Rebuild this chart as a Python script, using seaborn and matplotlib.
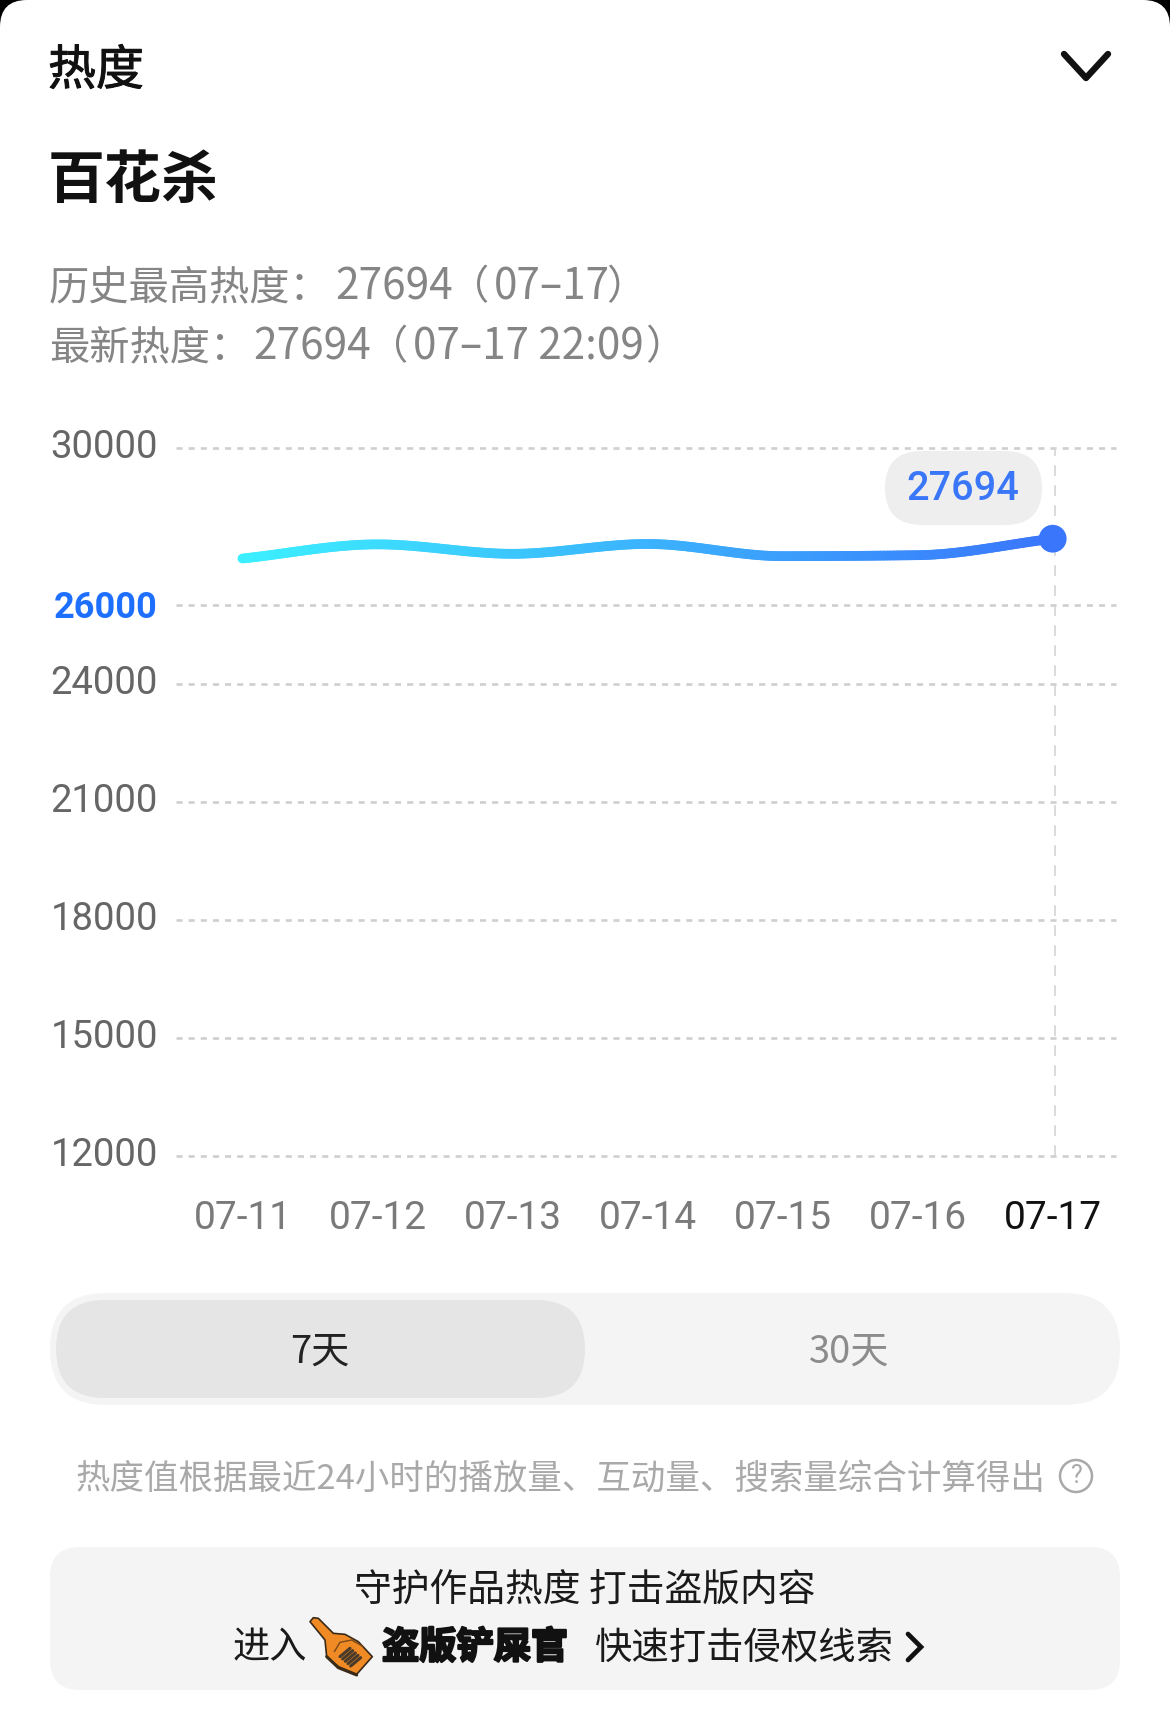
import numpy as np
import pandas as pd
import matplotlib
matplotlib.use("Agg")
import matplotlib.pyplot as plt
import matplotlib.colors as mcolors
import matplotlib.patheffects as pe
from matplotlib.patches import FancyBboxPatch, Rectangle, Polygon, Circle
from matplotlib.transforms import ScaledTranslation
import seaborn as sns

dates = ["07-11", "07-12", "07-13", "07-14", "07-15", "07-16", "07-17"]
heat = [27190, 27550, 27310, 27560, 27250, 27275, 27694]
y_ticks = [12000, 15000, 18000, 21000, 24000, 26000, 30000]
highlight_tick = 26000

CJK = ["Noto Sans CJK SC", "DejaVu Sans"]
NUM = ["Roboto", "DejaVu Sans"]
W, H = 1170, 1736

sns.set_theme(style="white")
plt.rcParams["font.family"] = CJK
plt.rcParams["axes.unicode_minus"] = False


def monotone_curve(values, per_seg=40):
    """Monotone cubic Hermite through the values, for the smooth display line."""
    y = np.asarray(values, dtype=float)
    d = np.diff(y)
    m = np.zeros_like(y)
    m[0], m[-1] = d[0], d[-1]
    for i in range(1, len(y) - 1):
        if d[i - 1] * d[i] > 0:
            m[i] = 2 * d[i - 1] * d[i] / (d[i - 1] + d[i])
    xs, ys = [], []
    for i in range(len(d)):
        t = np.linspace(0, 1, per_seg, endpoint=False)
        h00 = 2 * t**3 - 3 * t**2 + 1
        h10 = t**3 - 2 * t**2 + t
        h01 = -2 * t**3 + 3 * t**2
        h11 = t**3 - t**2
        xs.append(i + t)
        ys.append(h00 * y[i] + h10 * m[i] + h01 * y[i + 1] + h11 * m[i + 1])
    return np.r_[np.concatenate(xs), len(y) - 1.0], np.r_[np.concatenate(ys), y[-1]]


fig = plt.figure(figsize=(W / 100, H / 100), dpi=100, facecolor="white")

# page layer in pixel coordinates
bg = fig.add_axes([0, 0, 1, 1], zorder=0)
bg.set_xlim(0, W)
bg.set_ylim(H, 0)
bg.axis("off")


def rbox(x0, y0, x1, y1, r, color, ax=bg, z=1):
    ax.add_patch(FancyBboxPatch((x0, y0), x1 - x0, y1 - y0,
                                boxstyle=f"round,pad=0,rounding_size={r}",
                                fc=color, ec="none", zorder=z))


bg.add_patch(Rectangle((0, 0), W, 60, fc="black", ec="none", zorder=0))
rbox(0, 0, W, H + 80, 27, "white", z=0.5)

bg.text(48, 71, "热度", fontsize=34.5, fontweight="medium", color="#111111", va="center", ha="left",
        path_effects=[pe.withStroke(linewidth=0.7, foreground="#111111")])
bg.plot([1064, 1086, 1108], [54, 78, 54], color="#111111", lw=4.6, solid_capstyle="round",
        solid_joinstyle="round", zorder=3)
bg.text(48, 181, "百花杀", fontsize=41, fontweight="bold", color="#111111", va="center", ha="left")

GREY = "#858585"
for x, y, s, fs in [
    (49, 287.5, "历史最高热度：", 29), (335, 287.5, f"{heat[-1]}", 30.5), (449, 287.5, "（", 29),
    (494, 287.5, "07–17", 30.3), (606, 287.5, "）", 29),
    (49, 347.5, "最新热度：", 29), (253, 347.5, f"{heat[-1]}", 30.5), (368, 347.5, "（", 29),
    (413, 347.5, "07–17 22:09", 30.3), (645, 347.5, "）", 29),
]:
    bg.text(x, y, s, fontsize=fs, color=GREY, va="center", ha="left")

# value pill
rbox(885, 451, 1042, 525, 37, "#eeeeee")
bg.text(963, 489, f"{heat[-1]}", fontsize=28.5, family=NUM, fontweight="medium",
        color="#3a76f8", va="center", ha="center", zorder=3)

# range switch
rbox(50, 1293, 1120, 1405, 56, "#f4f4f4")
rbox(56, 1300, 585, 1398, 49, "#e5e5e5", z=2)
bg.text(320, 1352, "7天", fontsize=27.5, color="#222222", va="center", ha="center", zorder=3)
bg.text(849, 1352, "30天", fontsize=27.5, color="#8c8c8c", va="center", ha="center", zorder=3)

# footnote
bg.text(76, 1479, "热度值根据最近24小时的播放量、互动量、搜索量综合计算得出", fontsize=24.8,
        color="#a9a9a9", va="center", ha="left")
bg.add_patch(Circle((1076, 1476), 16, fc="none", ec="#a9a9a9", lw=1.8, zorder=3))
bg.text(1076, 1476, "?", fontsize=18, color="#a9a9a9", va="center", ha="center", zorder=3, family=NUM)

# bottom card
rbox(50, 1547, 1120, 1690, 30, "#f4f4f4")
bg.text(585, 1590, "守护作品热度 打击盗版内容", fontsize=27.2, color="#1a1a1a", va="center", ha="center", zorder=3)
bg.text(233, 1648, "进入", fontsize=26.8, color="#1a1a1a", va="center", ha="left", zorder=3)
bg.text(382, 1648, "盗版铲屎官", fontsize=26.8, fontweight="bold", color="#111111", va="center", ha="left",
        zorder=3, path_effects=[pe.withStroke(linewidth=1.6, foreground="#111111")])
bg.text(595, 1648, "快速打击侵权线索", fontsize=26.9, color="#1a1a1a", va="center", ha="left", zorder=3)
bg.plot([908, 921, 908], [1634, 1647, 1660], color="#111111", lw=3.4, solid_capstyle="round",
        solid_joinstyle="miter", zorder=3)


# shovel icon (decoration, drawn in a 3x local grid)
def ic(points):
    return [(295 + px / 3, 1605 + py / 3) for px, py in points]


bg.add_patch(Polygon(ic([(45, 50), (55, 38), (70, 40), (115, 85), (150, 88), (190, 110), (232, 155),
                         (185, 208), (130, 185), (95, 155), (90, 105)]),
                     closed=True, fc="#ef8a25", ec="#3a2a18", lw=1.2, joinstyle="round", zorder=3))
arc = ic([(118, 140), (135, 112), (170, 105), (205, 125)])
bg.plot(*zip(*arc), color="#7a4a18", lw=1.0, zorder=4)
for k in range(5):
    seg = ic([(135 + k * 8, 155 + k * 7), (165 + k * 8, 130 + k * 7)])
    bg.plot(*zip(*seg), color="#4a3a2a", lw=2.2, zorder=4)
edge = ic([(95, 155), (130, 188), (185, 210)])
bg.plot(*zip(*edge), color="#3a2a18", lw=2.2, zorder=4)

# chart
AX_L, AX_R, AX_T, AX_B = 176, 1116, 448, 1156
X0, STEP = 242.4, 135.05
ax = fig.add_axes([AX_L / W, 1 - AX_B / H, (AX_R - AX_L) / W, (AX_B - AX_T) / H], zorder=2)
ax.patch.set_alpha(0)

xs, ys = monotone_curve(heat)
start = np.array(mcolors.to_rgb("#3cf0ff"))
end = np.array(mcolors.to_rgb("#3a76fb"))
n_seg = len(xs) - 1
seg_df = pd.DataFrame({
    "x": np.r_[xs[:-1], xs[1:]],
    "y": np.r_[ys[:-1], ys[1:]],
    "seg": np.r_[np.arange(n_seg), np.arange(n_seg)],
})
palette = {i: tuple(start + (end - start) * i / (n_seg - 1)) for i in range(n_seg)}
sns.lineplot(data=seg_df, x="x", y="y", hue="seg", palette=palette, legend=False,
             estimator=None, errorbar=None, lw=7, solid_capstyle="round", ax=ax, zorder=3)
sns.scatterplot(x=[len(heat) - 1], y=[heat[-1]], s=400, color="#3a76fb", edgecolor="none",
                ax=ax, zorder=4, clip_on=False)

ax.set_xlim((AX_L - X0) / STEP, (AX_R - X0) / STEP)
ax.set_ylim(12000, 30000)
ax.set_xlabel("")
ax.set_ylabel("")
sns.despine(ax=ax, left=True, bottom=True)

for v in y_ticks:
    ax.axhline(v, color="#cfcfcf", lw=1.9, linestyle=(0, (2.3, 2.3)), zorder=1, clip_on=False)
ax.axvline(len(heat) - 1 + 2 / STEP, color="#d4d4d4", lw=1.2, linestyle=(0, (6.5, 5.5)), zorder=1)

ax.set_yticks(y_ticks)
ax.set_yticklabels([str(v) for v in y_ticks])
ax.set_xticks(range(len(dates)))
ax.set_xticklabels(dates)
ax.tick_params(axis="y", length=0, pad=13)
ax.tick_params(axis="x", length=0, pad=32)

for lab, v in zip(ax.get_yticklabels(), y_ticks):
    lab.set_family(NUM)
    lab.set_fontsize(27.5)
    lab.set_color("#666666")
    offset = 3
    if v == highlight_tick:
        lab.set_color("#1f6fff")
        lab.set_fontweight("bold")
        lab.set_fontsize(26)
        offset = 1
    lab.set_transform(lab.get_transform() + ScaledTranslation(0, offset / 72, fig.dpi_scale_trans))
for i, lab in enumerate(ax.get_xticklabels()):
    lab.set_family(NUM)
    lab.set_fontsize(28)
    lab.set_color("#111111" if i == len(dates) - 1 else "#7a7a7a")

fig.savefig("out.png", dpi=100, facecolor="white")
